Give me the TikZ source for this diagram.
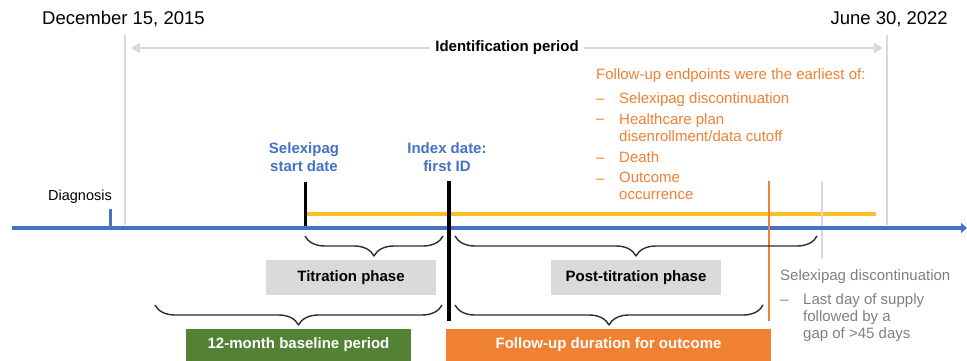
\documentclass[tikz,border=0pt]{standalone}
\usepackage{fontspec}
\setmainfont{Liberation Sans}
\usetikzlibrary{arrows.meta,decorations.pathreplacing}
\definecolor{axisblue}{RGB}{68,114,196}
\definecolor{idgray}{RGB}{217,217,217}
\definecolor{fuyellow}{RGB}{251,191,36}
\definecolor{fuorange}{RGB}{240,128,50}
\definecolor{basegreen}{RGB}{84,130,53}
\definecolor{boxgray}{RGB}{217,218,217}
\definecolor{txtgray}{RGB}{127,127,127}
\definecolor{bracegray}{RGB}{45,45,45}
\begin{document}
\begin{tikzpicture}[x=1pt,y=-1pt,line join=round,
	lbl/.style={inner sep=0pt,font=\fontsize{15}{17}\selectfont},
	datelbl/.style={inner sep=0pt,font=\fontsize{18.5}{20}\selectfont},
	bluelbl/.style={lbl,font=\fontsize{15}{18}\selectfont\bfseries,text=axisblue,align=center,anchor=north},
	endpt/.style={lbl,text=fuorange,align=left,anchor=north west},
	disc/.style={lbl,text=txtgray,align=left,anchor=north west},
	listdash/.style={lbl,anchor=base west,xshift=-23pt,yshift=-11pt},
	phasebox/.style={fill=boxgray,inner sep=0pt,minimum width=170pt,minimum height=35pt,font=\fontsize{15}{17}\selectfont\bfseries},
	periodbox/.style={inner sep=0pt,minimum height=32pt,text=white,font=\fontsize{15}{17}\selectfont\bfseries},
	curly/.style={draw=bracegray,line width=1.4pt,decorate,decoration={brace,amplitude=20pt,mirror}}]
	\useasboundingbox (0,0) rectangle (967,361);
	\def\ya{228} % time axis
	\def\ytop{181} % top of the event lines
	% dates and identification period
	\node[datelbl,anchor=base west] (start) at (42,25) {December 15, 2015};
	\node[datelbl,anchor=base east] (end) at (948,25) {June 30, 2022};
	\draw[idgray,line width=2.5pt] (125,35)--(125,\ya-3) (887,35)--(887,\ya-3);
	\coordinate (idL) at (131,48);
	\coordinate (idR) at (883,48);
	\node[lbl,font=\fontsize{15}{17}\selectfont\bfseries,inner xsep=5pt] (idper) at (507,48) {Identification period};
	\begin{scope}[idgray,line width=2.7pt]
	\draw[-{Triangle[length=9pt,width=10pt]}] (idper.west)--(idL);
	\draw[-{Triangle[length=9pt,width=10pt]}] (idper.east)--(idR);
	\end{scope}
	% follow-up endpoints
	\begin{scope}[fuorange]
	\node[endpt] (fuhead) at (596,68) {Follow-up endpoints were the earliest of:};
	\node[endpt] (e1) at (619,92) {Selexipag discontinuation};
	\node[endpt] (e2) at (619,113) {Healthcare plan\\disenrollment/data cutoff};
	\node[endpt] (e3) at (619,151) {Death};
	\node[endpt] (e4) at (619,172) {Outcome\\occurrence};
	\node[listdash,text=fuorange] (d1) at (e1.north west) {--};
	\node[listdash,text=fuorange] (d2) at (e2.north west) {--};
	\node[listdash,text=fuorange] (d3) at (e3.north west) {--};
	\node[listdash,text=fuorange] (d4) at (e4.north west) {--};
	\end{scope}
	% events on the time line
	\node[bluelbl] (sdate) at (304,142) {Selexipag\\start date};
	\node[bluelbl] (idate) at (447,142) {Index date:\\first ID};
	\node[lbl,font=\fontsize{14.5}{17}\selectfont,anchor=base] (diag) at (80,200) {Diagnosis};
	\draw[fuyellow,line width=3.5pt] (305,214)--(876,214);
	\draw[idgray,line width=2.5pt] (822,\ytop)--(822,259);
	\draw[axisblue,line width=4pt,-{Triangle[length=6pt,width=10pt]}] (12,\ya)--(967,\ya);
	\draw[axisblue,line width=3pt] (110,209)--(110,\ya);
	\draw[black,line width=3pt] (305,182)--(305,\ya-2);
	\draw[black,line width=4pt] (449,\ytop)--(449,321);
	\draw[fuorange,line width=2pt] (769,\ytop)--(769,321);
	% phases and periods
	\draw[curly] (305,236)--(443,236);
	\draw[curly] (455,236)--(817,236);
	\draw[curly] (155,305)--(442,305);
	\draw[curly] (455,305)--(763,305);
	\node[phasebox] (titr) at (351,277.5) {Titration phase};
	\node[phasebox] (post) at (636,277.5) {Post-titration phase};
	\node[periodbox,fill=basegreen,minimum width=225pt] (base) at (298.5,345) {12-month baseline period};
	\node[periodbox,fill=fuorange,minimum width=325pt] (fu) at (608.5,345) {Follow-up duration for outcome};
	% discontinuation rule
	\node[disc] (dischead) at (780,269) {Selexipag discontinuation};
	\node[disc] (dtxt) at (803,293) {Last day of supply\\followed by a\\gap of >45 days};
	\node[listdash,text=txtgray] (dd) at (dtxt.north west) {--};
\end{tikzpicture}
\end{document}
